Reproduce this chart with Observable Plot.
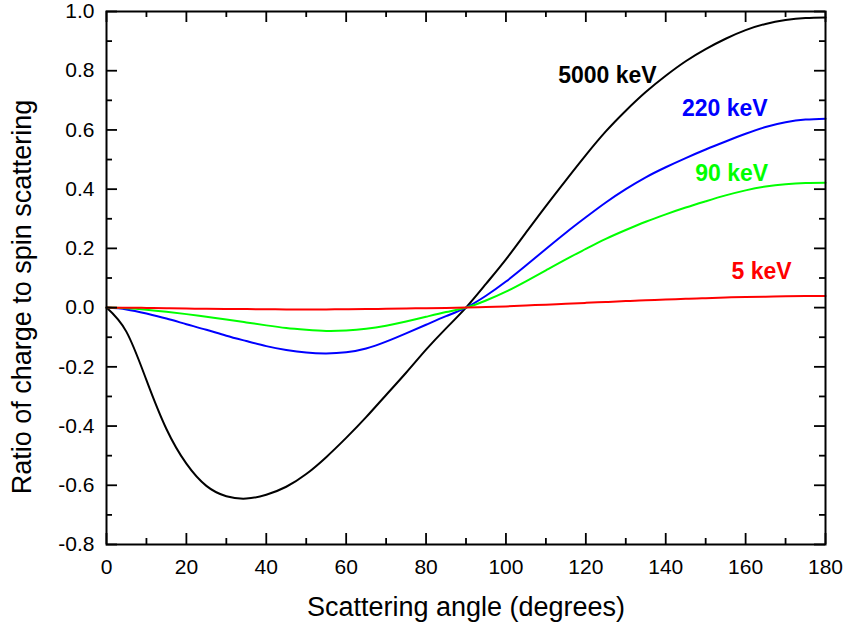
<!DOCTYPE html>
<html>
<head>
<meta charset="utf-8">
<script src="https://cdn.jsdelivr.net/npm/d3@7"></script>
<script src="https://cdn.jsdelivr.net/npm/@observablehq/plot@0.6"></script>
<style>
  html, body { margin: 0; padding: 0; background: #fff; }
  #chart svg { display: block; }
</style>
</head>
<body>
<div id="chart"></div>
<script>
// Scattering angle (degrees)
const angles = [0, 5, 10, 15, 20, 25, 30, 35, 40, 45, 50, 55, 60, 65, 70, 75, 80, 85, 90,
  95, 100, 105, 110, 115, 120, 125, 130, 135, 140, 145, 150, 155, 160, 165, 170, 175, 180];

// Ratio of charge to spin scattering, per photon energy
const kev5000 = [0, -0.082, -0.245, -0.41, -0.527, -0.602, -0.637, -0.645, -0.632, -0.605, -0.562, -0.505,
  -0.44, -0.37, -0.295, -0.22, -0.142, -0.07, 0, 0.08, 0.163, 0.253, 0.343, 0.43, 0.515, 0.595, 0.665,
  0.728, 0.783, 0.832, 0.873, 0.908, 0.937, 0.958, 0.971, 0.978, 0.98];
const kev220 = [0, -0.006, -0.02, -0.037, -0.056, -0.075, -0.095, -0.113, -0.13, -0.143, -0.152, -0.155,
  -0.151, -0.138, -0.115, -0.087, -0.058, -0.029, 0, 0.04, 0.088, 0.142, 0.198, 0.253, 0.305, 0.355, 0.4,
  0.44, 0.474, 0.505, 0.534, 0.561, 0.587, 0.61, 0.626, 0.635, 0.638];
const kev90 = [0, -0.002, -0.007, -0.014, -0.022, -0.031, -0.04, -0.05, -0.06, -0.069, -0.075, -0.079,
  -0.0775, -0.0715, -0.061, -0.047, -0.031, -0.015, 0, 0.024, 0.054, 0.089, 0.126, 0.163, 0.198, 0.232, 0.262,
  0.29, 0.315, 0.338, 0.359, 0.379, 0.396, 0.409, 0.417, 0.421, 0.422];
const kev5 = [0, -0.0005, -0.001, -0.002, -0.003, -0.004, -0.0045, -0.005, -0.0055, -0.006, -0.006, -0.006,
  -0.0055, -0.005, -0.004, -0.003, -0.002, -0.001, 0, 0.002, 0.004, 0.007, 0.01, 0.013, 0.016, 0.019, 0.022,
  0.025, 0.027, 0.03, 0.032, 0.034, 0.036, 0.037, 0.038, 0.039, 0.039];

const seriesNames = ["5000 keV", "220 keV", "90 keV", "5 keV"];
const seriesValues = [kev5000, kev220, kev90, kev5];
const seriesColors = ["#000000", "#0000ff", "#00ff00", "#ff0000"];

// Annotation label anchors (data units)
const labelAngles = [125.4, 154.8, 156.5, 164.0];
const labelValues = [0.784, 0.672, 0.451, 0.1225];

// Ticks
const xMajor = [0, 20, 40, 60, 80, 100, 120, 140, 160, 180];
const xMinor = [10, 30, 50, 70, 90, 110, 130, 150, 170];
const yMajor = [-0.8, -0.6, -0.4, -0.2, 0.0, 0.2, 0.4, 0.6, 0.8, 1.0];
const yMinor = [-0.7, -0.5, -0.3, -0.1, 0.1, 0.3, 0.5, 0.7, 0.9];

const xTitle = "Scattering angle (degrees)";
const yTitle = "Ratio of charge to spin scattering";

// Build tables
const rows = [];
seriesNames.forEach((name, i) => {
  angles.forEach((a, j) => rows.push({series: name, angle: a, value: seriesValues[i][j]}));
});
const labels = seriesNames.map((name, i) => ({series: name, angle: labelAngles[i], value: labelValues[i], color: seriesColors[i]}));

const W = 847, H = 628;
const mL = 106, mR = 22, mT = 11, mB = 84;
const innerW = W - mL - mR, innerH = H - mT - mB;
const majorLen = 11, minorLen = 6, tickW = 1.8;

const marks = [];
seriesNames.forEach((name, i) => {
  marks.push(Plot.line(rows.filter(r => r.series === name), {
    x: "angle", y: "value", stroke: seriesColors[i], strokeWidth: 2, curve: "natural"
  }));
});
// inward ticks on all four sides
[[xMajor, majorLen], [xMinor, minorLen]].forEach(([vals, len]) => {
  marks.push(Plot.ruleX(vals, {x: d => d, insetTop: innerH - len, stroke: "#000", strokeWidth: tickW}));
  marks.push(Plot.ruleX(vals, {x: d => d, insetBottom: innerH - len, stroke: "#000", strokeWidth: tickW}));
});
[[yMajor, majorLen], [yMinor, minorLen]].forEach(([vals, len]) => {
  marks.push(Plot.ruleY(vals, {y: d => d, insetRight: innerW - len, stroke: "#000", strokeWidth: tickW}));
  marks.push(Plot.ruleY(vals, {y: d => d, insetLeft: innerW - len, stroke: "#000", strokeWidth: tickW}));
});
marks.push(Plot.frame({stroke: "#000", strokeWidth: 2}));
marks.push(Plot.axisX(xMajor, {anchor: "bottom", tickSize: 0, tickPadding: 15, fontSize: 21, label: null, fill: "#000"}));
marks.push(Plot.axisY(yMajor, {anchor: "left", tickSize: 0, tickPadding: 12, fontSize: 21, label: null, fill: "#000",
  tickFormat: d => d.toFixed(1)}));
marks.push(Plot.text([xTitle], {text: d => d, frameAnchor: "bottom", textAnchor: "middle", dy: 63, fontSize: 27, fill: "#000", lineAnchor: "middle"}));
marks.push(Plot.text([yTitle], {text: d => d, frameAnchor: "left", textAnchor: "middle", rotate: -90, dx: -84, dy: 19, fontSize: 27, fill: "#000", lineAnchor: "middle"}));
marks.push(Plot.text(labels, {x: "angle", y: "value", text: "series", fill: "color", fontSize: 23, fontWeight: "bold", lineAnchor: "middle", textAnchor: "middle"}));

const chart = Plot.plot({
  width: W, height: H,
  marginLeft: mL, marginRight: mR, marginTop: mT, marginBottom: mB,
  x: {domain: [0, 180]},
  y: {domain: [-0.8, 1.0]},
  style: {fontFamily: "'Liberation Sans', Arial, Helvetica, sans-serif", background: "#fff", color: "#000", overflow: "visible"},
  marks
});
document.getElementById("chart").appendChild(chart);
</script>
</body>
</html>
